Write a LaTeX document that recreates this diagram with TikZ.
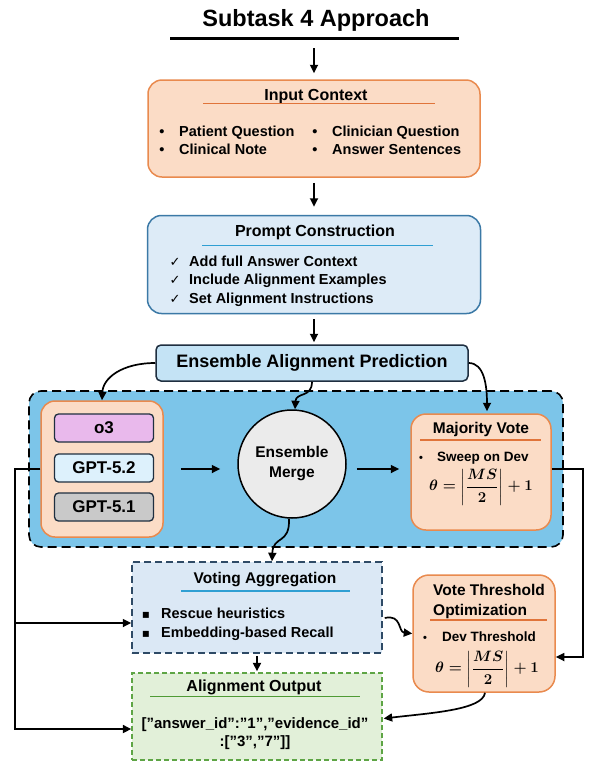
\documentclass[tikz,border=0pt]{standalone}
\usepackage{amsmath}
\usepackage[no-math]{fontspec}
\setmainfont{Liberation Sans}
\newfontfamily\dejavu{DejaVu Sans}
\usetikzlibrary{arrows.meta}
\definecolor{peachF}{HTML}{FBDCC6}
\definecolor{peachD}{HTML}{E98A4E}
\definecolor{orangeL}{HTML}{E0743A}
\definecolor{pcF}{HTML}{DDEBF7}
\definecolor{pcD}{HTML}{3B79A6}
\definecolor{tealL}{HTML}{2F9FD3}
\definecolor{eapF}{HTML}{C4E3F5}
\definecolor{eapD}{HTML}{1F2F40}
\definecolor{contF}{HTML}{7CC5E9}
\definecolor{o3F}{HTML}{E9B9EC}
\definecolor{g52F}{HTML}{DDF1FC}
\definecolor{g51F}{HTML}{C9C9C9}
\definecolor{circF}{HTML}{EBEBEB}
\definecolor{vaF}{HTML}{DBE8F5}
\definecolor{vaD}{HTML}{2E4A66}
\definecolor{aoF}{HTML}{E2F0D9}
\definecolor{aoD}{HTML}{5EA545}
\definecolor{greenL}{HTML}{4F9B35}
\newcommand{\thetaform}{\scalebox{1.25}{\boldmath$\displaystyle \theta = \left\vert\frac{MS}{2}\right\vert + 1$}}
\begin{document}
\begin{tikzpicture}[x=1pt,y=-1pt,
  box/.style={inner sep=0pt, line width=1.5pt},
  peach/.style={box, fill=peachF, draw=peachD, rounded corners=14pt},
  mbox/.style={box, draw=eapD, line width=1.3pt, rounded corners=4pt, fs=17},
  fs/.style={font=\fontsize{#1}{#1}\selectfont\bfseries},
  lbl/.style={inner sep=0pt, anchor=base},
  lblw/.style={inner sep=0pt, anchor=base west},
  chk/.style={inner sep=0pt, anchor=base, font=\dejavu\fontsize{13}{13}\selectfont},
  sqb/.style={inner sep=0pt, anchor=base, font=\dejavu\fontsize{12}{12}\selectfont},
  frm/.style={inner sep=0pt, font=\fontsize{12}{12}\selectfont},
  uline/.style={line width=1.6pt},
  conn/.style={line width=1.6pt},
  arr/.style={line width=1.7pt, -{Triangle[length=8.5pt,width=8pt]}}
]
\useasboundingbox (0,0) rectangle (592,764);
\fill[white] (0,0) rectangle (592,764);

% title
\node[lbl, fs=23.5] (title) at (316,26) {Subtask 4 Approach};
\coordinate (tl) at (170,38);
\coordinate (tr) at (459,38);
\draw[line width=3pt] (tl) -- (tr);
\coordinate (a0) at (314,48);

% input context
\node[peach, minimum width=332pt, minimum height=97pt] (inp) at (314,128.5) {};
\draw[arr, shorten >=6pt] (a0) -- (inp.north);
\node[lbl, fs=16] (inpT) at (316,100) {Input Context};
\coordinate (inpU1) at (203,103.5);
\coordinate (inpU2) at (435,103.5);
\draw[uline, orangeL] (inpU1) -- (inpU2);
\node[lbl, fs=14.5] (ib1) at (162,136.2) {•};
\node[lblw, fs=14.5] (it1) at (179,136.2) {Patient Question};
\node[lbl, fs=14.5] (ib2) at (162,154.2) {•};
\node[lblw, fs=14.5] (it2) at (179,154.2) {Clinical Note};
\node[lbl, fs=14.5] (ib3) at (315,136.2) {•};
\node[lblw, fs=14.5] (it3) at (332,136.2) {Clinician Question};
\node[lbl, fs=14.5] (ib4) at (315,154.2) {•};
\node[lblw, fs=14.5] (it4) at (332,154.2) {Answer Sentences};

% prompt construction
\node[box, fill=pcF, draw=pcD, rounded corners=14pt, minimum width=333pt, minimum height=98pt] (pc) at (314,264.5) {};
\draw[arr, shorten <=5pt, shorten >=8pt] (inp.south) -- (pc.north);
\node[lbl, fs=16] (pcT) at (315,236.5) {Prompt Construction};
\coordinate (pcU1) at (202,245.5);
\coordinate (pcU2) at (433,245.5);
\draw[uline, tealL] (pcU1) -- (pcU2);
\node[chk] (pk1) at (175,266.2) {✓};
\node[lblw, fs=14.5] (pt1) at (189,266.2) {Add full Answer Context};
\node[chk] (pk2) at (175,284.2) {✓};
\node[lblw, fs=14.5] (pt2) at (189,284.2) {Include Alignment Examples};
\node[chk] (pk3) at (175,303.2) {✓};
\node[lblw, fs=14.5] (pt3) at (189,303.2) {Set Alignment Instructions};

% ensemble alignment prediction
\node[box, fill=eapF, draw=eapD, rounded corners=5pt, minimum width=312pt, minimum height=36pt, fs=18] (eap) at (312,363) {Ensemble Alignment Prediction};
\draw[arr, shorten <=5pt, shorten >=2pt] (pc.south) -- (pc.south |- eap.north);

% container
\node[box, fill=contF, draw=black, dash pattern=on 9pt off 5pt, line width=1.6pt, rounded corners=12pt, minimum width=534pt, minimum height=156pt] (cont) at (296,469) {};

% models
\node[peach, minimum width=122pt, minimum height=136pt] (models) at (102,469) {};
\node[mbox, fill=o3F, minimum width=99pt, minimum height=28pt] (o3) at (104,428) {o3};
\node[mbox, fill=g52F, minimum width=99pt, minimum height=28pt] (g52) at (104,468) {GPT-5.2};
\node[mbox, fill=g51F, minimum width=99pt, minimum height=28pt] (g51) at (104,507) {GPT-5.1};

% ensemble merge
\node[circle, draw=black, line width=1.5pt, fill=circF, minimum size=108pt, inner sep=0pt, align=center, fs=15.5] (circ) at (292,464) {Ensemble\\[4.5pt]Merge};

% majority vote
\node[peach, rounded corners=15pt, minimum width=140pt, minimum height=116pt] (mv) at (481,472) {};
\node[lbl, fs=15.5] (mvT) at (481,433.6) {Majority Vote};
\coordinate (mvU1) at (420,440);
\coordinate (mvU2) at (541,440);
\draw[uline, orangeL] (mvU1) -- (mvU2);
\node[lbl, fs=11] (mvb) at (421,461.5) {•};
\node[lblw, fs=13.5] (mvt) at (437,461.5) {Sweep on Dev};
\node[frm] (mvf) at (481,487) {\thetaform};

% connectors in ensemble
\draw[arr] (eap.west) .. controls (122,363) and (103,378) .. (models.north);
\draw[arr] (eap.south) .. controls (312,398) and (296,392) .. ([xshift=3pt]circ.north);
\draw[arr] (eap.east) .. controls (484,363) and (487,385) .. ([xshift=6pt,yshift=2pt]mv.north);
\draw[arr] ([xshift=17pt]models.east) -- ([xshift=-17pt]models.east -| circ.west);
\draw[arr] ([xshift=10pt]models.east -| circ.east) -- ([xshift=-11pt]models.east -| mv.west);

% voting aggregation
\node[box, fill=vaF, draw=vaD, dash pattern=on 7pt off 4pt, minimum width=250pt, minimum height=91pt] (va) at (257,607.5) {};
\node[lbl, fs=15.5] (vaT) at (265,583.6) {Voting Aggregation};
\coordinate (vaU1) at (181,591);
\coordinate (vaU2) at (350,591);
\draw[uline, tealL] (vaU1) -- (vaU2);
\node[sqb] (vb1) at (146,618.2) {▪};
\node[lblw, fs=14.5] (vt1) at (161,618.2) {Rescue heuristics};
\node[sqb] (vb2) at (146,637.2) {▪};
\node[lblw, fs=14.5] (vt2) at (161,637.2) {Embedding-based Recall};
\draw[arr] ([xshift=-3pt]circ.south) .. controls (290,545) and (273,535) .. ([xshift=15pt]va.north);

% vote threshold optimization
\node[peach, rounded corners=16pt, minimum width=142pt, minimum height=117pt] (vto) at (484,633.5) {};
\node[lblw, fs=15.5] (vtoT1) at (433,595.6) {Vote Threshold};
\node[lblw, fs=15.5] (vtoT2) at (433,615.6) {Optimization};
\coordinate (vtoU1) at (430,620);
\coordinate (vtoU2) at (547,620);
\draw[uline, orangeL] (vtoU1) -- (vtoU2);
\node[lbl, fs=11] (vtob) at (425,641.5) {•};
\node[lblw, fs=13.5] (vtot) at (442,641.5) {Dev Threshold};
\node[frm] (vtof) at (487,669) {\thetaform};
\draw[arr] ([xshift=2pt,yshift=-10.5pt]va.east) .. controls (402,614) and (398,632) .. (vto.west);

% alignment output
\node[box, fill=aoF, draw=aoD, dash pattern=on 5pt off 3pt, line width=1.4pt, minimum width=250pt, minimum height=87pt] (ao) at (257,716.5) {};
\node[lbl, fs=16] (aoT) at (254,691.5) {Alignment Output};
\coordinate (aoU1) at (150,696.5);
\coordinate (aoU2) at (360,696.5);
\draw[uline, greenL] (aoU1) -- (aoU2);
\node[lbl, fs=15] (aot1) at (255,728.4) {["answer\_id":"1","evidence\_id"};
\node[lbl, fs=15] (aot2) at (255,746.4) {:["3","7"]]};
\draw[arr, shorten <=2pt, shorten >=1pt] (va.south) -- (ao.north);
\draw[arr] ([xshift=1pt]vto.south) .. controls (483,710) and (430,713) .. ([xshift=1pt,yshift=-2pt]ao.east);

% outer connectors
\coordinate (lA) at (15,729);
\coordinate (lB) at (15,623);
\draw[arr] (models.west) -| (lA) -- (lA -| ao.west);
\draw[arr] (lB) -- (lB -| va.west);
\coordinate (rA) at (583,657);
\draw[arr] ([yshift=3pt]mv.east) -| (rA) -- (rA -| vto.east);
\end{tikzpicture}
\end{document}
